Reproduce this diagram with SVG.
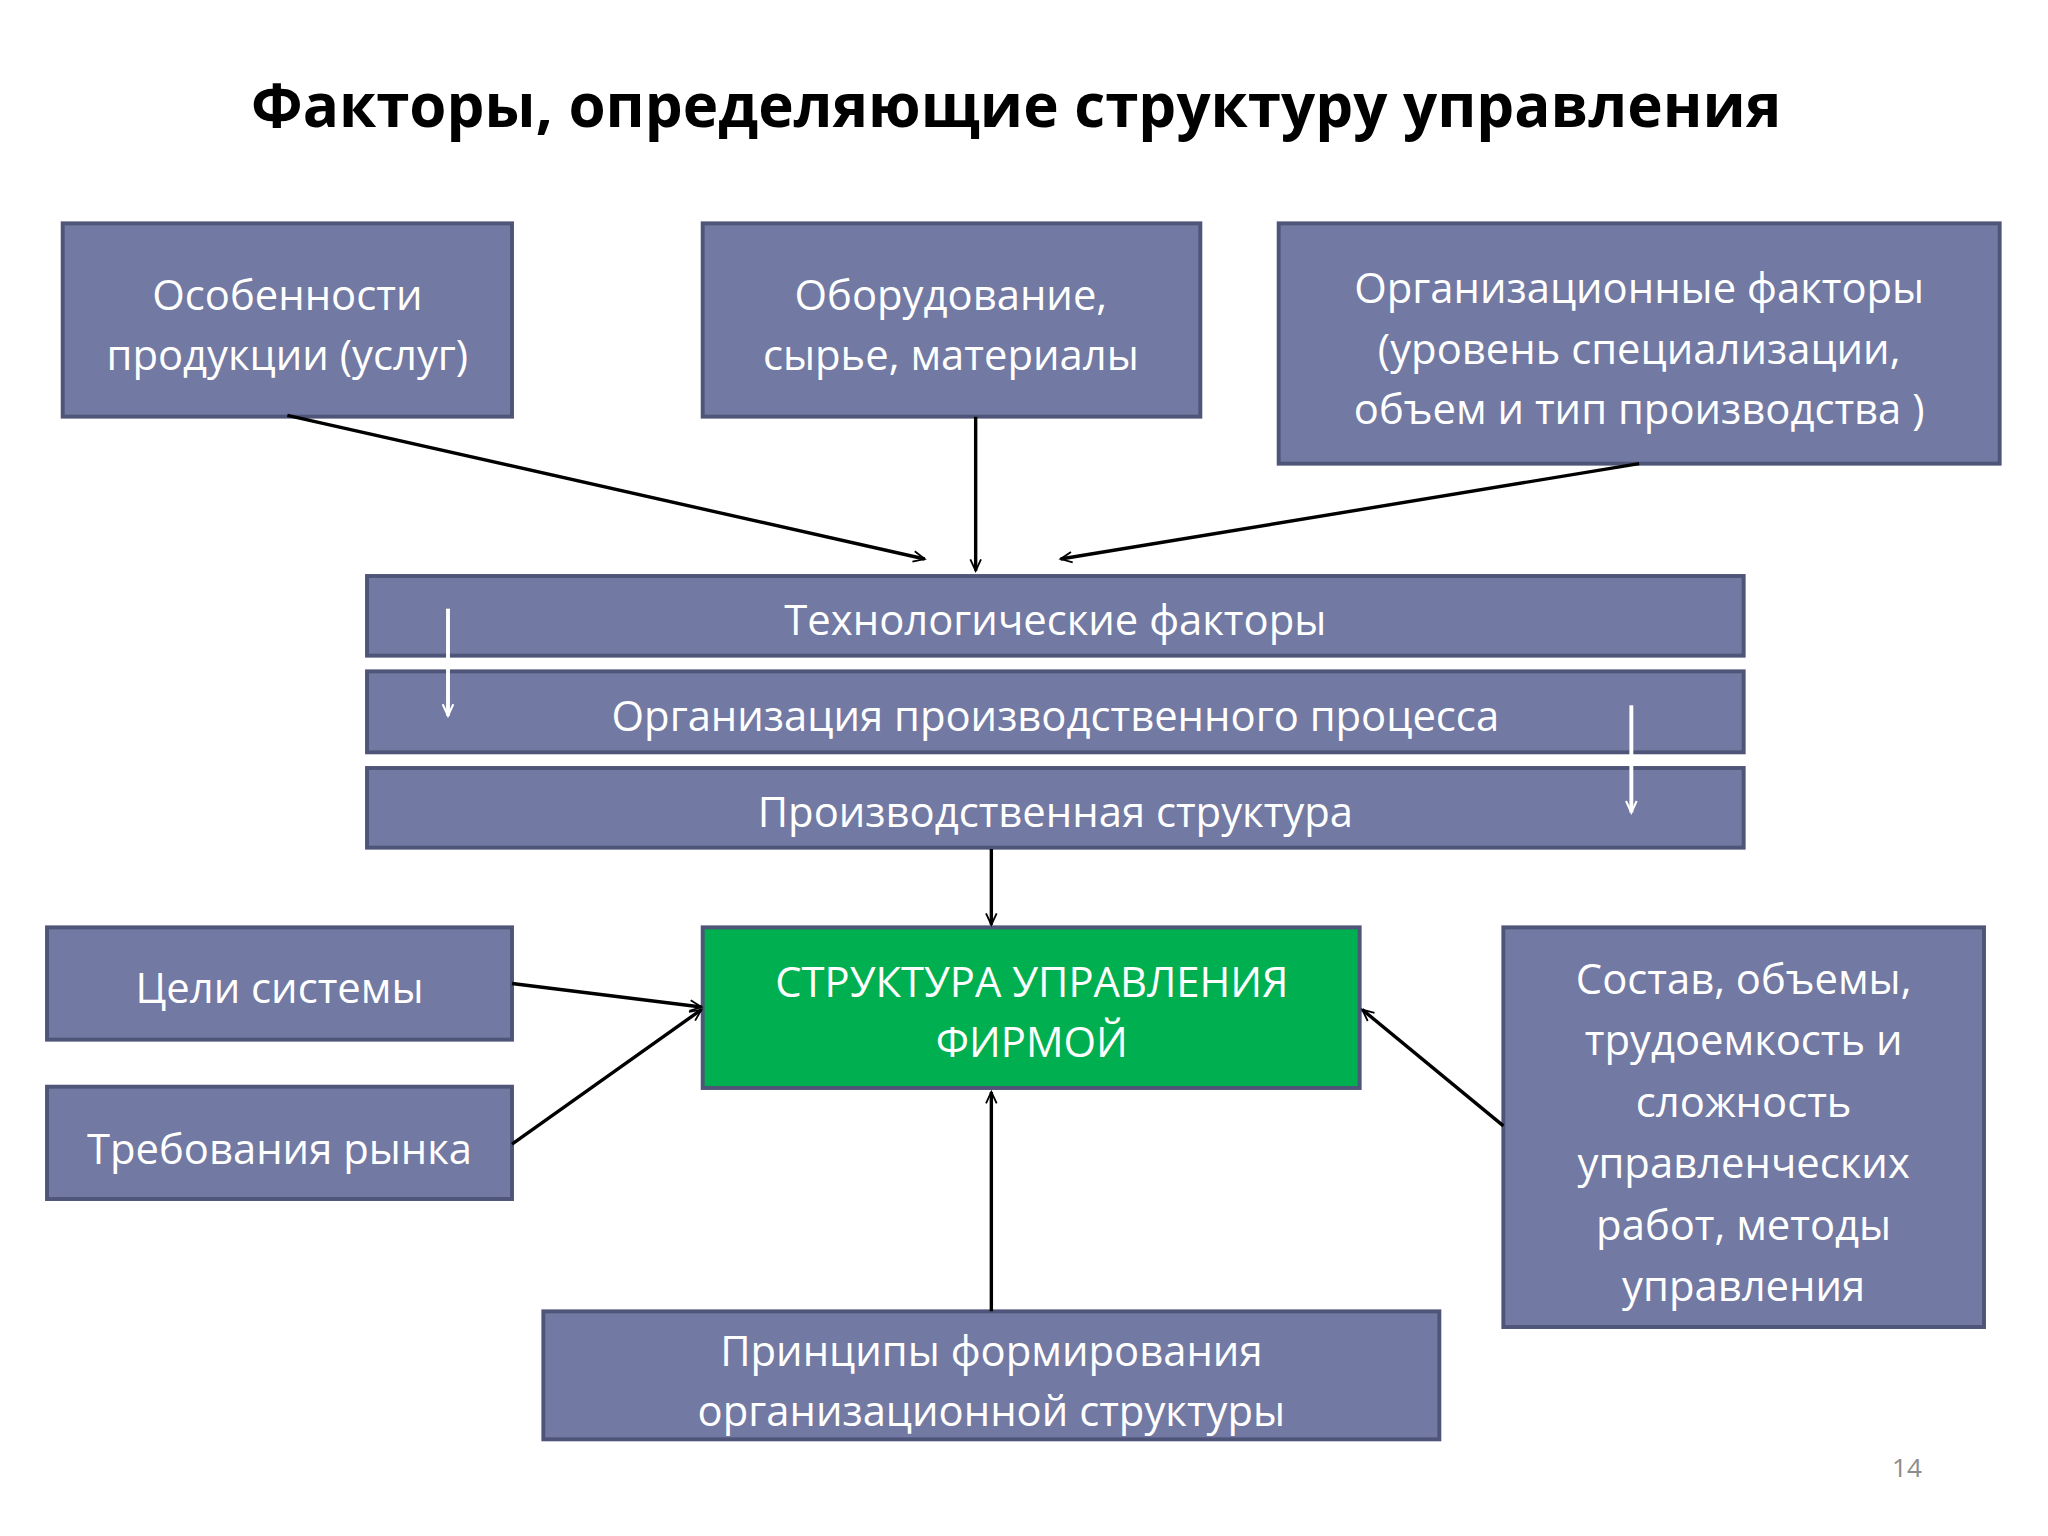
<svg xmlns="http://www.w3.org/2000/svg" width="2048" height="1536" viewBox="0 0 2048 1536">
<style>
.box{fill:#7279a3;stroke:#4f5578;stroke-width:3}
.t{font-family:"Open Sans","Liberation Sans",sans-serif;font-size:32px;fill:#ffffff;text-anchor:middle}
.c{stroke:#000;stroke-width:2.6;fill:none;marker-end:url(#ah)}
.w{stroke:#fff;stroke-width:3;fill:none;marker-end:url(#wh)}
</style>
<defs>
<marker id="ah" viewBox="0 0 12 12" refX="11" refY="6" markerWidth="7" markerHeight="7" orient="auto" markerUnits="userSpaceOnUse" overflow="visible"><path d="M-4,-1 L11,6 L-4,13" fill="none" stroke="#000" stroke-width="2.4" transform="scale(1)"/></marker>
<marker id="wh" viewBox="0 0 12 12" refX="11" refY="6" markerWidth="7" markerHeight="7" orient="auto" markerUnits="userSpaceOnUse" overflow="visible"><path d="M-4,-1 L11,6 L-4,13" fill="none" stroke="#fff" stroke-width="2.8"/></marker>
</defs>
<rect width="2048" height="1536" fill="#fff"/>
<g transform="scale(1.30612)">
<text x="778" y="97" font-family="Open Sans, Liberation Sans, sans-serif" font-weight="bold" font-size="46" text-anchor="middle" fill="#000">Факторы, определяющие структуру управления</text>
<g id="n1"><rect class="box" x="48" y="171" width="344" height="148"/><text class="t" x="220" y="237">Особенности</text><text class="t" x="220" y="283">продукции (услуг)</text></g>
<g id="n2"><rect class="box" x="538" y="171" width="381" height="148"/><text class="t" x="728" y="237">Оборудование,</text><text class="t" x="728" y="283">сырье,  материалы</text></g>
<g id="n3"><rect class="box" x="979" y="171" width="552" height="184"/><text class="t" x="1255" y="232">Организационные факторы</text><text class="t" x="1255" y="279">(уровень специализации,</text><text class="t" x="1255" y="325">объем и тип производства )</text></g>
<g id="n4"><rect class="box" x="281" y="441" width="1054" height="61"/><text class="t" x="808" y="486">Технологические  факторы</text></g>
<g id="n5"><rect class="box" x="281" y="514" width="1054" height="62"/><text class="t" x="808" y="560">Организация  производственного  процесса</text></g>
<g id="n6"><rect class="box" x="281" y="588" width="1054" height="61"/><text class="t" x="808" y="633">Производственная  структура</text></g>
<g id="n7"><rect x="538" y="710" width="503" height="123" fill="#00b050" stroke="#4f5578" stroke-width="3"/><text class="t" x="790" y="763">СТРУКТУРА  УПРАВЛЕНИЯ</text><text class="t" x="790" y="809">ФИРМОЙ</text></g>
<g id="n8"><rect class="box" x="36" y="710" width="356" height="86"/><text class="t" x="214" y="768">Цели системы</text></g>
<g id="n9"><rect class="box" x="36" y="832" width="356" height="86"/><text class="t" x="214" y="891">Требования рынка</text></g>
<g id="n10"><rect class="box" x="1151" y="710" width="368" height="306"/>
<text class="t" x="1335" y="761">Состав,  объемы,</text><text class="t" x="1335" y="808">трудоемкость и</text><text class="t" x="1335" y="855">сложность</text><text class="t" x="1335" y="902">управленческих</text><text class="t" x="1335" y="949">работ,  методы</text><text class="t" x="1335" y="996">управления</text></g>
<g id="n11"><rect class="box" x="416" y="1004" width="686" height="98"/><text class="t" x="759" y="1046">Принципы   формирования</text><text class="t" x="759" y="1092">организационной   структуры</text></g>
<g id="connectors">
<line class="c" x1="220" y1="318" x2="708" y2="428"/>
<line class="c" x1="747" y1="319" x2="747" y2="437"/>
<line class="c" x1="1255" y1="355" x2="812" y2="428"/>
<line class="c" x1="759" y1="650" x2="759" y2="708"/>
<line class="c" x1="392" y1="753" x2="537" y2="771"/>
<line class="c" x1="392" y1="876" x2="537" y2="773"/>
<line class="c" x1="759" y1="1004" x2="759" y2="836"/>
<line class="c" x1="1151" y1="862" x2="1043" y2="773"/>
<line class="w" x1="343" y1="466" x2="343" y2="548"/>
<line class="w" x1="1249" y1="540" x2="1249" y2="622"/>
</g>
<text x="1460" y="1131" font-family="Open Sans, Liberation Sans, sans-serif" font-size="20" fill="#8c8c8c" text-anchor="middle">14</text>
</g>
</svg>
